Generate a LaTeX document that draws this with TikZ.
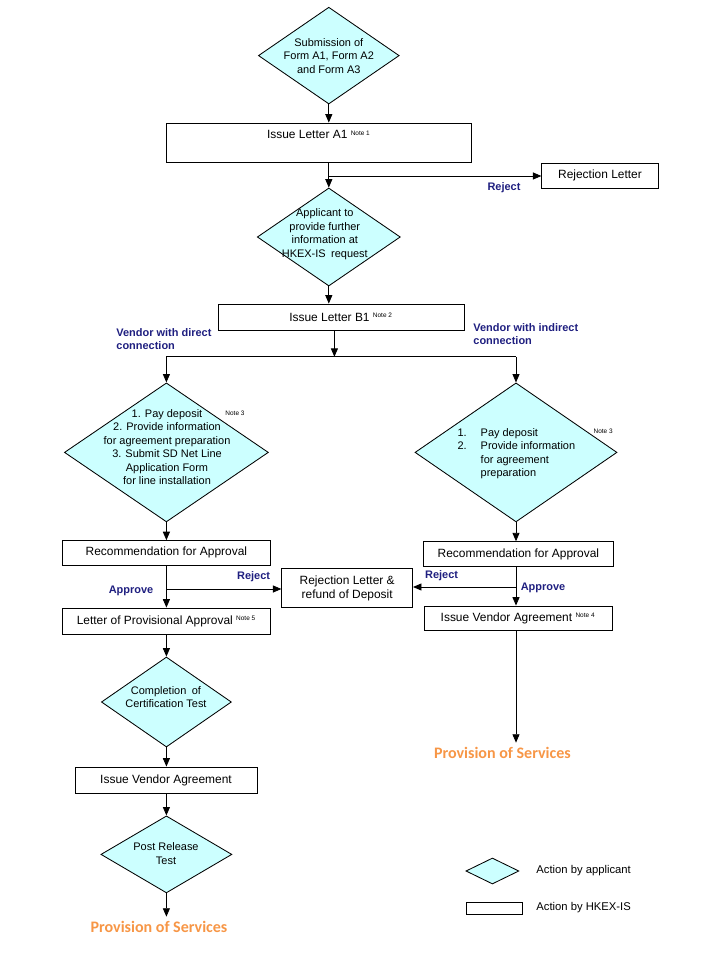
\documentclass[tikz,border=0pt]{standalone}
\usepackage{fontspec}
\setmainfont{Liberation Sans}
\newfontfamily\calibrifont{Carlito}
\usetikzlibrary{shapes.geometric,arrows.meta}
\definecolor{actfill}{RGB}{204,255,255}
\definecolor{lblblue}{RGB}{31,31,128}
\definecolor{provorange}{RGB}{247,150,70}
\newcommand{\nt}[1]{\textsuperscript{\fontsize{4.6}{5}\selectfont Note #1}}

\begin{document}
\begin{tikzpicture}[
  line width=0.6pt,
  act/.style={diamond, draw, fill=actfill, inner sep=0pt},
  acttext/.style={align=center, inner sep=0pt, font=\fontsize{7.8}{9.6}\selectfont},
  hkex/.style={rectangle, draw, fill=white, inner sep=0pt, align=center,
               font=\fontsize{8.5}{10}\selectfont},
  tag/.style={font=\fontsize{7.8}{9.4}\selectfont\bfseries, text=lblblue, align=left, inner sep=0pt},
  note/.style={font=\fontsize{4.6}{5}\selectfont, inner sep=0pt},
  prov/.style={font=\calibrifont\fontsize{11.4}{13}\selectfont\bfseries, text=provorange, inner sep=3pt},
  legend/.style={anchor=west, inner sep=0pt, font=\fontsize{8}{10}\selectfont},
  arr/.style={->, >={Triangle[length=6pt,width=5pt]}},
]
\useasboundingbox (0,0) rectangle (18,-24);
% application and letters A1 / B1
\node[act, minimum width=3.52cm, minimum height=2.42cm] (d1) at (8.22,-1.39) {};
\node[acttext] (d1t) at (d1.center) {Submission of\\Form A1, Form A2\\and Form A3};
\node[hkex, minimum width=7.61cm, minimum height=0.975cm, text height=6pt, text depth=11pt] (a1) at (7.97,-3.5625) {Issue Letter A1 \nt{1}};
\node[hkex, minimum width=2.91cm, minimum height=0.63cm] (rej1) at (15.0,-4.39) {Rejection Letter};
\node[act, minimum width=3.575cm, minimum height=2.45cm] (d2) at (8.22,-5.925) {};
\node[acttext] (d2t) at (8.12,-5.86) {Applicant to\\provide further\\information at\\HKEX-IS\enspace request};
\node[hkex, minimum width=6.15cm, minimum height=0.65cm] (b1) at (8.525,-7.925) {Issue Letter B1 \nt{2}};
\coordinate (j1) at (8.22,-4.4);
\coordinate (j2) at (8.36,-8.92);
\node[tag] (rj1) at (12.6,-4.68) {Reject};
\node[tag, anchor=west] (vdir) at (2.9,-8.47) {Vendor with direct\\connection};
\node[tag, anchor=west] (vind) at (11.825,-8.36) {Vendor with indirect\\connection};
% direct connection
\node[act, minimum width=5.1cm, minimum height=3.475cm] (d3) at (4.16,-11.31) {};
\node[acttext] (d3t) at (4.175,-11.18) {1. Pay deposit\\2. Provide information\\for agreement preparation\\3. Submit SD Net Line\\Application Form\\for line installation};
\node[note] (n3a) at (5.875,-10.32) {Note 3};
\node[hkex, minimum width=5.18cm, minimum height=0.61cm] (rec1) at (4.16,-13.82) {Recommendation for Approval};
\node[hkex, minimum width=5.18cm, minimum height=0.65cm] (lpa) at (4.16,-15.525) {Letter of Provisional Approval \nt{5}};
\node[act, minimum width=3.25cm, minimum height=2.25cm] (d5) at (4.16,-17.55) {};
\node[acttext] (d5t) at (4.15,-17.43) {Completion\enspace of\\Certification Test};
\node[hkex, minimum width=4.55cm, minimum height=0.65cm] (iva2) at (4.15,-19.5) {Issue Vendor Agreement};
\node[act, minimum width=3.275cm, minimum height=1.925cm] (d6) at (4.16,-21.36) {};
\node[acttext] (d6t) at (4.15,-21.34) {Post Release\\Test};
\node[prov] (prov1) at (3.975,-23.175) {Provision of Services};
\coordinate (j3) at (4.16,-14.725);
\node[tag] (rj2) at (6.34,-14.425) {Reject};
\node[tag] (ap1) at (3.275,-14.78) {Approve};
% indirect connection
\node[act, minimum width=5.05cm, minimum height=3.475cm] (d4) at (12.9,-11.31) {};
\node[acttext, align=left] (d4t) at (12.91,-11.34) {\makebox[16.4pt][l]{1.}Pay deposit\\\makebox[16.4pt][l]{2.}Provide information\\\hspace*{16.4pt}for agreement\\\hspace*{16.4pt}preparation};
\node[note] (n3b) at (15.08,-10.775) {Note 3};
\node[hkex, minimum width=4.73cm, minimum height=0.625cm] (rec2) at (12.96,-13.855) {Recommendation for Approval};
\node[hkex, minimum width=4.7cm, minimum height=0.6cm] (iva1) at (12.95,-15.45) {Issue Vendor Agreement \nt{4}};
\node[prov] (prov2) at (12.56,-18.825) {Provision of Services};
\coordinate (j4) at (12.9,-14.675);
\node[tag] (rj3) at (11.04,-14.4) {Reject};
\node[tag] (ap2) at (13.575,-14.7) {Approve};
\node[hkex, minimum width=3.27cm, minimum height=0.975cm] (rej2) at (8.68,-14.71) {Rejection Letter \&\\refund of Deposit};
% legend
\node[act, minimum width=1.325cm, minimum height=0.65cm] (lg1) at (12.31,-21.775) {};
\node[hkex, minimum width=1.4cm, minimum height=0.3cm] (lg2) at (12.35,-22.7) {};
\node[legend] (lg1t) at (13.4,-21.775) {Action by applicant};
\node[legend] (lg2t) at (13.4,-22.7) {Action by HKEX-IS};
% connectors
\draw[arr] (d1.south) -- (d1.south |- a1.north);
\draw[arr] (d2.north |- a1.south) -- (d2.north);
\draw[arr] (j1) -- (j1 -| rej1.west);
\draw[arr] (d2.south) -- (d2.south |- b1.north);
\draw[arr] (j2 |- b1.south) -- (j2);
\draw (d3.north |- j2) -- (d4.north |- j2);
\draw[arr] (d3.north |- j2) -- (d3.north);
\draw[arr] (d4.north |- j2) -- (d4.north);
\draw[arr] (d3.south) -- (d3.south |- rec1.north);
\draw[arr] (d4.south) -- (d4.south |- rec2.north);
\draw[arr] (j3 |- rec1.south) -- (j3 |- lpa.north);
\draw[arr] (j3) -- (j3 -| rej2.west);
\draw[arr] (j4 |- rec2.south) -- (j4 |- iva1.north);
\draw[arr] (j4) -- (j4 -| rej2.east);
\draw[arr] (j4 |- iva1.south) -- (j4 |- prov2.north);
\draw[arr] (d5.north |- lpa.south) -- (d5.north);
\draw[arr] (d5.south) -- (d5.south |- iva2.north);
\draw[arr] (d6.north |- iva2.south) -- (d6.north);
\draw[arr] (d6.south) -- (d6.south |- prov1.north);
\end{tikzpicture}
\end{document}
